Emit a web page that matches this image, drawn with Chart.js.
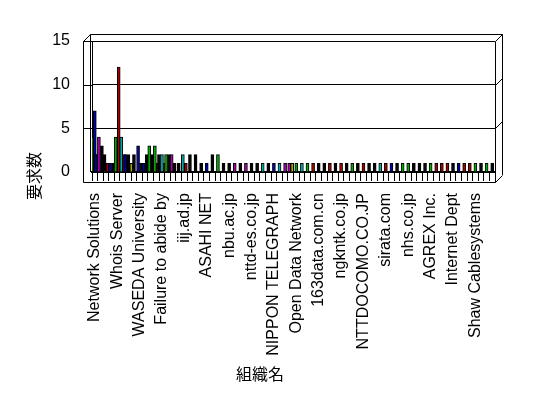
<!DOCTYPE html>
<html>
<head>
<meta charset="utf-8">
<script src="https://cdn.jsdelivr.net/npm/chart.js@4/dist/chart.umd.min.js"></script>
<style>
  html, body { margin: 0; padding: 0; background: #fff; }
  #wrap { width: 548px; height: 398px; }
</style>
</head>
<body>
<div id="wrap"><canvas id="orgChart" width="548" height="398"></canvas></div>
<script>
const _ = null;

// 72 organisations, only every 4th name is printed on the axis
const categories = [
    'Network Solutions', '', '', '', 'Whois Server', '', '', '',
    'WASEDA University', '', '', '', 'Failure to abide by', '', '', '',
    'iij.ad.jp', '', '', '', 'ASAHI NET', '', '', '',
    'nbu.ac.jp', '', '', '', 'nttd-es.co.jp', '', '', '',
    'NIPPON TELEGRAPH', '', '', '', 'Open Data Network', '', '', '',
    '163data.com.cn', '', '', '', 'ngkntk.co.jp', '', '', '',
    'NTTDOCOMO.CO.JP', '', '', '', 'sirata.com', '', '', '',
    'nhs.co.jp', '', '', '', 'AGREX Inc.', '', '', '',
    'Internet Dept', '', '', '', 'Shaw Cablesystems', '', '', ''
];

const greenVals   = [4,_,_,_,4,_,_,_, _,_,3,3,_,2,_,_, _,_,_,_,_,_,2,_, _,_,_,_,_,_,_,_, _,_,_,_,1,_,1,_, _,_,_,_,_,_,1,_, _,_,_,_,_,_,_,1, 1,_,_,_,1,_,_,_, _,_,_,_,1,_,1,_];
const blueVals    = [7,2,_,1,_,_,2,_, 3,1,_,_,_,_,_,_, _,_,_,_,1,_,_,_, _,_,_,_,_,_,_,_, 1,_,_,_,_,_,_,_, _,_,_,_,_,_,_,_, _,_,_,_,_,1,_,_, _,_,_,_,_,_,_,_, _,1,_,_,_,_,_,_];
const magentaVals = [_,4,_,_,_,_,_,_, _,_,_,_,_,_,2,_, _,_,_,_,_,_,_,_, _,1,_,1,_,_,_,_, _,_,1,1,_,_,_,_, _,_,_,_,_,_,_,_, _,_,_,_,_,_,_,_, _,_,_,_,_,_,_,_, _,_,_,_,_,_,_,_];
const blackVals   = [_,3,2,1,_,_,2,2, 1,2,2,_,2,2,1,1, _,2,2,1,_,2,_,1, 1,_,1,_,1,1,_,1, _,_,_,_,_,_,_,_, 1,1,_,1,_,1,_,1, _,1,1,_,_,_,1,_, _,1,1,1,_,_,_,_, 1,_,_,_,_,1,_,1];
const tealVals    = [_,_,_,_,_,4,_,_, _,_,_,_,2,_,_,_, 2,_,_,_,_,_,_,_, _,_,_,_,_,_,1,_, _,1,_,_,_,1,_,_, _,_,_,_,_,_,_,_, _,_,_,1,_,_,_,_, _,_,_,_,_,_,_,_, _,_,_,_,_,_,_,_];
const redVals     = [2,_,1,_,12,2,_,_, _,_,_,1,1,_,_,_, 1,_,_,_,_,_,_,_, _,_,_,_,_,_,_,_, _,_,_,_,_,_,_,1, _,_,1,_,1,_,_,_, 1,_,_,_,1,_,_,_, _,_,_,_,_,1,1,1, _,_,1,1,_,_,_,_];
const oliveVals   = [_,1,_,_,_,_,1,_, _,_,_,_,_,_,_,_, _,_,_,_,_,_,_,_, _,_,_,_,_,_,_,_, _,_,_,1,_,_,_,_, _,_,_,_,_,_,_,_, _,_,_,_,_,_,_,_, _,_,_,_,_,_,_,_, _,_,_,_,_,_,_,_];

const yTicks = [0, 5, 10, 15];
const xTitle = '組織名';
const yTitle = '要求数';

Chart.defaults.font.family = '"Liberation Sans", Arial, sans-serif';
Chart.defaults.font.size = 16;
Chart.defaults.color = '#000';

function series(label, data, color) {
    return {
        label: label,
        data: data,
        backgroundColor: color,
        borderColor: '#000',
        borderWidth: 1,
        barThickness: 3,
        skipNull: true
    };
}

// excel-ish 3d box drawn round the plot
const frame3d = {
    id: 'frame3d',
    afterDraw(chart) {
        const ctx = chart.ctx;
        const a = chart.chartArea;
        const y = chart.scales.y;
        const dx = 7, dy = 7, outer = 83.5, floor = 182.5;
        const L = Math.round(a.left) + 0.5, R = Math.round(a.right) + 0.5;
        const T = Math.round(a.top) + 0.5;
        ctx.save();
        ctx.strokeStyle = '#000';
        ctx.lineWidth = 1;
        ctx.beginPath();
        // left side wall
        ctx.moveTo(outer, T); ctx.lineTo(outer, floor);
        ctx.moveTo(outer, T); ctx.lineTo(outer + dx, T - dy);
        ctx.lineTo(R + dx, T - dy);
        ctx.lineTo(R + dx, a.bottom + 3 - dy + 7);
        ctx.moveTo(outer + dx, T - dy); ctx.lineTo(outer + dx, a.bottom);
        // right wall + grid slants
        ctx.moveTo(R, T); ctx.lineTo(R, floor);
        yTicks.forEach(v => {
            const py = Math.round(y.getPixelForValue(v)) + 0.5;
            if (v > 0) {
                ctx.moveTo(outer, py); ctx.lineTo(L, py);
                ctx.moveTo(R, py); ctx.lineTo(R + dx, py - dy);
            }
        });
        // floor front edge
        ctx.moveTo(outer, floor); ctx.lineTo(R, floor);
        ctx.lineTo(R + dx, floor - dy);
        ctx.stroke();

        // axis titles
        ctx.fillStyle = '#000';
        ctx.font = '16px "Noto Sans CJK JP", sans-serif';
        ctx.textAlign = 'center';
        ctx.textBaseline = 'middle';
        ctx.fillText(xTitle, 260, 374);
        ctx.translate(34, 176);
        ctx.rotate(-Math.PI / 2);
        ctx.fillText(yTitle, 0, 0);
        ctx.restore();
    }
};

const ctxOrg = document.getElementById('orgChart').getContext('2d');
const orgChart = new Chart(ctxOrg, {
    type: 'bar',
    plugins: [frame3d],
    data: {
        labels: categories,
        datasets: [
            series('系列1', greenVals, '#00a800'),
            series('系列2', blueVals, '#0000a8'),
            series('系列3', magentaVals, '#a800a8'),
            series('系列4', blackVals, '#000000'),
            series('系列5', tealVals, '#00a8a8'),
            series('系列6', redVals, '#a80000'),
            series('系列7', oliveVals, '#a8a800')
        ]
    },
    options: {
        responsive: false,
        animation: false,
        layout: {
            padding: { left: 0, top: 41, right: 53, bottom: 0 }
        },
        plugins: {
            legend: { display: false },
            title: { display: false },
            tooltip: { enabled: false }
        },
        scales: {
            x: {
                afterFit: function (scale) { scale.height = 226; },
                grid: {
                    drawOnChartArea: false,
                    drawTicks: true,
                    tickLength: 9,
                    color: '#000',
                    offset: true
                },
                border: { display: true, color: '#000', width: 2 },
                ticks: {
                    autoSkip: false,
                    maxRotation: 90,
                    minRotation: 90,
                    padding: 12,
                    color: '#000',
                    font: { size: 16 }
                }
            },
            y: {
                min: 0,
                max: 15,
                afterFit: function (scale) { scale.width = 92; },
                afterBuildTicks: function (scale) {
                    scale.ticks = yTicks.map(v => ({ value: v }));
                },
                grid: {
                    color: '#000',
                    drawTicks: false
                },
                border: { display: true, color: '#000', width: 1 },
                ticks: {
                    padding: 22,
                    color: '#000',
                    font: { size: 16 }
                }
            }
        }
    }
});
</script>
</body>
</html>
